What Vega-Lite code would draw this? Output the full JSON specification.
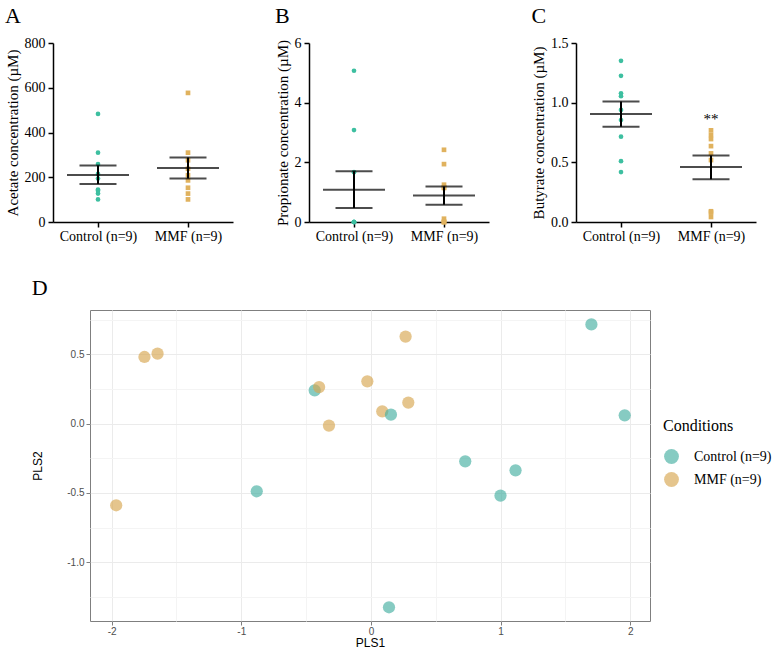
{
  "$schema": "https://vega.github.io/schema/vega-lite/v6.json",
  "padding": {"left": 5, "top": 5, "right": 0, "bottom": 0},
  "background": "white",
  "config": {"view": {"stroke": null}},
  "datasets": {
    "scfa": [
      {"panel": "A", "group": "Control (n=9)", "value": 483},
      {"panel": "A", "group": "Control (n=9)", "value": 310},
      {"panel": "A", "group": "Control (n=9)", "value": 259},
      {"panel": "A", "group": "Control (n=9)", "value": 215},
      {"panel": "A", "group": "Control (n=9)", "value": 194},
      {"panel": "A", "group": "Control (n=9)", "value": 145},
      {"panel": "A", "group": "Control (n=9)", "value": 140},
      {"panel": "A", "group": "Control (n=9)", "value": 127},
      {"panel": "A", "group": "Control (n=9)", "value": 101},
      {"panel": "A", "group": "MMF (n=9)", "value": 577},
      {"panel": "A", "group": "MMF (n=9)", "value": 310},
      {"panel": "A", "group": "MMF (n=9)", "value": 276},
      {"panel": "A", "group": "MMF (n=9)", "value": 238},
      {"panel": "A", "group": "MMF (n=9)", "value": 209},
      {"panel": "A", "group": "MMF (n=9)", "value": 186},
      {"panel": "A", "group": "MMF (n=9)", "value": 153},
      {"panel": "A", "group": "MMF (n=9)", "value": 127},
      {"panel": "A", "group": "MMF (n=9)", "value": 101},
      {"panel": "B", "group": "Control (n=9)", "value": 5.07},
      {"panel": "B", "group": "Control (n=9)", "value": 3.08},
      {"panel": "B", "group": "Control (n=9)", "value": 1.67},
      {"panel": "B", "group": "Control (n=9)", "value": 0},
      {"panel": "B", "group": "Control (n=9)", "value": 0},
      {"panel": "B", "group": "Control (n=9)", "value": 0},
      {"panel": "B", "group": "Control (n=9)", "value": 0},
      {"panel": "B", "group": "Control (n=9)", "value": 0},
      {"panel": "B", "group": "Control (n=9)", "value": 0},
      {"panel": "B", "group": "MMF (n=9)", "value": 2.42},
      {"panel": "B", "group": "MMF (n=9)", "value": 1.94},
      {"panel": "B", "group": "MMF (n=9)", "value": 1.25},
      {"panel": "B", "group": "MMF (n=9)", "value": 1.16},
      {"panel": "B", "group": "MMF (n=9)", "value": 1.14},
      {"panel": "B", "group": "MMF (n=9)", "value": 0.11},
      {"panel": "B", "group": "MMF (n=9)", "value": 0},
      {"panel": "B", "group": "MMF (n=9)", "value": 0},
      {"panel": "B", "group": "MMF (n=9)", "value": 0},
      {"panel": "C", "group": "Control (n=9)", "value": 1.351},
      {"panel": "C", "group": "Control (n=9)", "value": 1.225},
      {"panel": "C", "group": "Control (n=9)", "value": 1.079},
      {"panel": "C", "group": "Control (n=9)", "value": 1.054},
      {"panel": "C", "group": "Control (n=9)", "value": 0.939},
      {"panel": "C", "group": "Control (n=9)", "value": 0.855},
      {"panel": "C", "group": "Control (n=9)", "value": 0.715},
      {"panel": "C", "group": "Control (n=9)", "value": 0.51},
      {"panel": "C", "group": "Control (n=9)", "value": 0.418},
      {"panel": "C", "group": "MMF (n=9)", "value": 0.768},
      {"panel": "C", "group": "MMF (n=9)", "value": 0.729},
      {"panel": "C", "group": "MMF (n=9)", "value": 0.695},
      {"panel": "C", "group": "MMF (n=9)", "value": 0.636},
      {"panel": "C", "group": "MMF (n=9)", "value": 0.575},
      {"panel": "C", "group": "MMF (n=9)", "value": 0.519},
      {"panel": "C", "group": "MMF (n=9)", "value": 0.09},
      {"panel": "C", "group": "MMF (n=9)", "value": 0.079},
      {"panel": "C", "group": "MMF (n=9)", "value": 0.042}
    ],
    "summary": [
      {"panel": "A", "group": "Control (n=9)", "mean": 210, "lo": 170, "hi": 252},
      {"panel": "A", "group": "MMF (n=9)", "mean": 241, "lo": 194, "hi": 288},
      {"panel": "B", "group": "Control (n=9)", "mean": 1.08, "lo": 0.47, "hi": 1.7},
      {"panel": "B", "group": "MMF (n=9)", "mean": 0.89, "lo": 0.58, "hi": 1.19},
      {"panel": "C", "group": "Control (n=9)", "mean": 0.906, "lo": 0.799, "hi": 1.009},
      {"panel": "C", "group": "MMF (n=9)", "mean": 0.46, "lo": 0.359, "hi": 0.558}
    ],
    "annot": [
      {"panel": "C", "group": "MMF (n=9)", "y": 0.86, "label": "**"}
    ],
    "pls": [
      {"group": "Control (n=9)", "PLS1": -0.434, "PLS2": 0.24},
      {"group": "MMF (n=9)", "PLS1": -1.747, "PLS2": 0.481},
      {"group": "MMF (n=9)", "PLS1": -1.646, "PLS2": 0.505},
      {"group": "MMF (n=9)", "PLS1": -0.4, "PLS2": 0.264},
      {"group": "MMF (n=9)", "PLS1": -0.324, "PLS2": -0.014},
      {"group": "MMF (n=9)", "PLS1": -0.028, "PLS2": 0.305},
      {"group": "MMF (n=9)", "PLS1": 0.087, "PLS2": 0.089},
      {"group": "MMF (n=9)", "PLS1": 0.267, "PLS2": 0.628},
      {"group": "MMF (n=9)", "PLS1": 0.288, "PLS2": 0.152},
      {"group": "MMF (n=9)", "PLS1": -1.965, "PLS2": -0.589},
      {"group": "Control (n=9)", "PLS1": 0.154, "PLS2": 0.065},
      {"group": "Control (n=9)", "PLS1": 1.7, "PLS2": 0.716},
      {"group": "Control (n=9)", "PLS1": 1.957, "PLS2": 0.06},
      {"group": "Control (n=9)", "PLS1": 0.727, "PLS2": -0.272},
      {"group": "Control (n=9)", "PLS1": 1.115, "PLS2": -0.337},
      {"group": "Control (n=9)", "PLS1": 0.999, "PLS2": -0.519},
      {"group": "Control (n=9)", "PLS1": -0.881, "PLS2": -0.488},
      {"group": "Control (n=9)", "PLS1": 0.139, "PLS2": -1.325}
    ]
  },
  "resolve": {"scale": {"color": "independent", "shape": "independent"}, "legend": {"color": "independent"}},
  "columns": 1,
  "align": "none",
  "spacing": 33,
  "concat": [
    {
      "spacing": 42,
      "hconcat": [
        {
          "width": 180, "height": 179,
          "title": {"text": "A", "anchor": "start", "frame": "bounds", "font": "Liberation Serif", "fontSize": 22, "fontWeight": "normal", "color": "#000", "offset": 8},
          "layer": [
            {
              "data": {"name": "scfa"},
              "transform": [{"filter": "datum.panel === 'A'"}],
              "mark": {"type": "point", "filled": true, "size": 22, "opacity": 1},
              "encoding": {
                "x": {"field": "group", "type": "nominal", "scale": {"type": "point", "padding": 0.5, "domain": ["Control (n=9)", "MMF (n=9)"]},
                  "axis": {"title": null, "labelAngle": 0, "domainColor": "#000", "domainWidth": 1.5, "tickColor": "#000", "tickWidth": 1.5, "tickSize": 5, "labelFont": "Liberation Serif", "labelFontSize": 14, "labelColor": "#000", "labelPadding": 2, "grid": false}},
                "y": {"field": "value", "type": "quantitative", "scale": {"domain": [0, 800], "nice": false},
                  "axis": {"title": "Acetate concentration (µM)", "values": [0, 200, 400, 600, 800], "grid": false, "domainColor": "#000", "domainWidth": 1.5, "tickColor": "#000", "tickWidth": 1.5, "tickSize": 5, "labelFont": "Liberation Serif", "labelFontSize": 14, "labelColor": "#000", "labelPadding": 3, "titleFont": "Liberation Serif", "titleFontSize": 15, "titleFontWeight": "normal", "titleColor": "#000", "titlePadding": 4}},
                "color": {"field": "group", "type": "nominal", "scale": {"domain": ["Control (n=9)", "MMF (n=9)"], "range": ["#3DBFA0", "#E0B25E"]}, "legend": null},
                "shape": {"field": "group", "type": "nominal", "scale": {"domain": ["Control (n=9)", "MMF (n=9)"], "range": ["circle", "square"]}, "legend": null}
              }
            },
            {
              "data": {"name": "summary"},
              "transform": [{"filter": "datum.panel === 'A'"}],
              "mark": {"type": "rule", "color": "#000", "strokeWidth": 2},
              "encoding": {"x": {"field": "group", "type": "nominal"}, "y": {"field": "lo", "type": "quantitative"}, "y2": {"field": "hi"}}
            },
            {
              "data": {"name": "summary"},
              "transform": [{"filter": "datum.panel === 'A'"}],
              "mark": {"type": "tick", "color": "#000", "size": 62, "thickness": 2},
              "encoding": {"x": {"field": "group", "type": "nominal"}, "y": {"field": "mean", "type": "quantitative"}}
            },
            {
              "data": {"name": "summary"},
              "transform": [{"filter": "datum.panel === 'A'"}],
              "mark": {"type": "tick", "color": "#000", "size": 37, "thickness": 2},
              "encoding": {"x": {"field": "group", "type": "nominal"}, "y": {"field": "lo", "type": "quantitative"}}
            },
            {
              "data": {"name": "summary"},
              "transform": [{"filter": "datum.panel === 'A'"}],
              "mark": {"type": "tick", "color": "#000", "size": 37, "thickness": 2},
              "encoding": {"x": {"field": "group", "type": "nominal"}, "y": {"field": "hi", "type": "quantitative"}}
            }
          ]
        },
        {
          "width": 180, "height": 179,
          "title": {"text": "B", "anchor": "start", "frame": "bounds", "font": "Liberation Serif", "fontSize": 22, "fontWeight": "normal", "color": "#000", "offset": 8},
          "layer": [
            {
              "data": {"name": "scfa"},
              "transform": [{"filter": "datum.panel === 'B'"}],
              "mark": {"type": "point", "filled": true, "size": 22, "opacity": 1},
              "encoding": {
                "x": {"field": "group", "type": "nominal", "scale": {"type": "point", "padding": 0.5, "domain": ["Control (n=9)", "MMF (n=9)"]},
                  "axis": {"title": null, "labelAngle": 0, "domainColor": "#000", "domainWidth": 1.5, "tickColor": "#000", "tickWidth": 1.5, "tickSize": 5, "labelFont": "Liberation Serif", "labelFontSize": 14, "labelColor": "#000", "labelPadding": 2, "grid": false}},
                "y": {"field": "value", "type": "quantitative", "scale": {"domain": [0, 6], "nice": false},
                  "axis": {"title": "Propionate concentration (µM)", "values": [0, 2, 4, 6], "grid": false, "domainColor": "#000", "domainWidth": 1.5, "tickColor": "#000", "tickWidth": 1.5, "tickSize": 5, "labelFont": "Liberation Serif", "labelFontSize": 14, "labelColor": "#000", "labelPadding": 3, "titleFont": "Liberation Serif", "titleFontSize": 15, "titleFontWeight": "normal", "titleColor": "#000", "titlePadding": 4}},
                "color": {"field": "group", "type": "nominal", "scale": {"domain": ["Control (n=9)", "MMF (n=9)"], "range": ["#3DBFA0", "#E0B25E"]}, "legend": null},
                "shape": {"field": "group", "type": "nominal", "scale": {"domain": ["Control (n=9)", "MMF (n=9)"], "range": ["circle", "square"]}, "legend": null}
              }
            },
            {
              "data": {"name": "summary"},
              "transform": [{"filter": "datum.panel === 'B'"}],
              "mark": {"type": "rule", "color": "#000", "strokeWidth": 2},
              "encoding": {"x": {"field": "group", "type": "nominal"}, "y": {"field": "lo", "type": "quantitative"}, "y2": {"field": "hi"}}
            },
            {
              "data": {"name": "summary"},
              "transform": [{"filter": "datum.panel === 'B'"}],
              "mark": {"type": "tick", "color": "#000", "size": 62, "thickness": 2},
              "encoding": {"x": {"field": "group", "type": "nominal"}, "y": {"field": "mean", "type": "quantitative"}}
            },
            {
              "data": {"name": "summary"},
              "transform": [{"filter": "datum.panel === 'B'"}],
              "mark": {"type": "tick", "color": "#000", "size": 37, "thickness": 2},
              "encoding": {"x": {"field": "group", "type": "nominal"}, "y": {"field": "lo", "type": "quantitative"}}
            },
            {
              "data": {"name": "summary"},
              "transform": [{"filter": "datum.panel === 'B'"}],
              "mark": {"type": "tick", "color": "#000", "size": 37, "thickness": 2},
              "encoding": {"x": {"field": "group", "type": "nominal"}, "y": {"field": "hi", "type": "quantitative"}}
            }
          ]
        },
        {
          "width": 180, "height": 179,
          "title": {"text": "C", "anchor": "start", "frame": "bounds", "font": "Liberation Serif", "fontSize": 22, "fontWeight": "normal", "color": "#000", "offset": 8},
          "layer": [
            {
              "data": {"name": "scfa"},
              "transform": [{"filter": "datum.panel === 'C'"}],
              "mark": {"type": "point", "filled": true, "size": 22, "opacity": 1},
              "encoding": {
                "x": {"field": "group", "type": "nominal", "scale": {"type": "point", "padding": 0.5, "domain": ["Control (n=9)", "MMF (n=9)"]},
                  "axis": {"title": null, "labelAngle": 0, "domainColor": "#000", "domainWidth": 1.5, "tickColor": "#000", "tickWidth": 1.5, "tickSize": 5, "labelFont": "Liberation Serif", "labelFontSize": 14, "labelColor": "#000", "labelPadding": 2, "grid": false}},
                "y": {"field": "value", "type": "quantitative", "scale": {"domain": [0, 1.5], "nice": false},
                  "axis": {"title": "Butyrate concentration (µM)", "values": [0, 0.5, 1, 1.5], "format": ".1f", "grid": false, "domainColor": "#000", "domainWidth": 1.5, "tickColor": "#000", "tickWidth": 1.5, "tickSize": 5, "labelFont": "Liberation Serif", "labelFontSize": 14, "labelColor": "#000", "labelPadding": 3, "titleFont": "Liberation Serif", "titleFontSize": 15, "titleFontWeight": "normal", "titleColor": "#000", "titlePadding": 4}},
                "color": {"field": "group", "type": "nominal", "scale": {"domain": ["Control (n=9)", "MMF (n=9)"], "range": ["#3DBFA0", "#E0B25E"]}, "legend": null},
                "shape": {"field": "group", "type": "nominal", "scale": {"domain": ["Control (n=9)", "MMF (n=9)"], "range": ["circle", "square"]}, "legend": null}
              }
            },
            {
              "data": {"name": "summary"},
              "transform": [{"filter": "datum.panel === 'C'"}],
              "mark": {"type": "rule", "color": "#000", "strokeWidth": 2},
              "encoding": {"x": {"field": "group", "type": "nominal"}, "y": {"field": "lo", "type": "quantitative"}, "y2": {"field": "hi"}}
            },
            {
              "data": {"name": "summary"},
              "transform": [{"filter": "datum.panel === 'C'"}],
              "mark": {"type": "tick", "color": "#000", "size": 62, "thickness": 2},
              "encoding": {"x": {"field": "group", "type": "nominal"}, "y": {"field": "mean", "type": "quantitative"}}
            },
            {
              "data": {"name": "summary"},
              "transform": [{"filter": "datum.panel === 'C'"}],
              "mark": {"type": "tick", "color": "#000", "size": 37, "thickness": 2},
              "encoding": {"x": {"field": "group", "type": "nominal"}, "y": {"field": "lo", "type": "quantitative"}}
            },
            {
              "data": {"name": "summary"},
              "transform": [{"filter": "datum.panel === 'C'"}],
              "mark": {"type": "tick", "color": "#000", "size": 37, "thickness": 2},
              "encoding": {"x": {"field": "group", "type": "nominal"}, "y": {"field": "hi", "type": "quantitative"}}
            },
            {
              "data": {"name": "annot"},
              "mark": {"type": "text", "font": "Liberation Serif", "fontSize": 15, "color": "#000", "baseline": "middle"},
              "encoding": {"x": {"field": "group", "type": "nominal"}, "y": {"field": "y", "type": "quantitative"}, "text": {"field": "label"}}
            }
          ]
        }
      ]
    },
    {
      "spacing": -23,
      "resolve": {"scale": {"color": "independent"}, "legend": {"color": "independent"}},
      "hconcat": [
        {
          "width": 1, "height": 1,
          "data": {"values": [{"k": 1}]},
          "mark": {"type": "point", "opacity": 0, "size": 0},
          "encoding": {}
        },
        {
          "width": 560, "height": 311,
          "view": {"stroke": "#7f7f7f", "strokeWidth": 1},
          "title": {"text": "D", "anchor": "start", "frame": "bounds", "font": "Liberation Serif", "fontSize": 22, "fontWeight": "normal", "color": "#000", "offset": 10},
          "data": {"name": "pls"},
          "mark": {"type": "point", "filled": true, "size": 150, "opacity": 0.65},
          "encoding": {
            "x": {"field": "PLS1", "type": "quantitative", "scale": {"domain": [-2.167, 2.152], "nice": false, "zero": false},
              "axis": {"title": "PLS1", "values": [-2, -1.5, -1, -0.5, 0, 0.5, 1, 1.5, 2],
                "labelExpr": "datum.value % 1 === 0 ? '' + datum.value : ''",
                "gridColor": {"condition": {"test": "datum.value % 1 === 0", "value": "#EBEBEB"}, "value": "#F4F4F4"},
                "tickOpacity": {"condition": {"test": "datum.value % 1 === 0", "value": 1}, "value": 0},
                "tickColor": "#7f7f7f", "tickSize": 4, "domain": false,
                "labelFont": "Liberation Sans", "labelFontSize": 10, "labelColor": "#4D4D4D", "labelPadding": 1,
                "titleFont": "Liberation Sans", "titleFontSize": 12, "titleFontWeight": "normal", "titleColor": "#000", "titlePadding": 1}},
            "y": {"field": "PLS2", "type": "quantitative", "scale": {"domain": [-1.424, 0.82], "nice": false, "zero": false},
              "axis": {"title": "PLS2", "values": [-1.25, -1, -0.75, -0.5, -0.25, 0, 0.25, 0.5, 0.75],
                "labelExpr": "datum.value % 0.5 === 0 ? replace(format(datum.value, '.1f'), '−', '-') : ''",
                "gridColor": {"condition": {"test": "datum.value % 0.5 === 0", "value": "#EBEBEB"}, "value": "#F4F4F4"},
                "tickOpacity": {"condition": {"test": "datum.value % 0.5 === 0", "value": 1}, "value": 0},
                "tickColor": "#7f7f7f", "tickSize": 4, "domain": false,
                "labelFont": "Liberation Sans", "labelFontSize": 10, "labelColor": "#4D4D4D", "labelPadding": 2,
                "titleFont": "Liberation Sans", "titleFontSize": 12, "titleFontWeight": "normal", "titleColor": "#000", "titlePadding": 22}},
            "color": {"field": "group", "type": "nominal", "scale": {"domain": ["Control (n=9)", "MMF (n=9)"], "range": ["#45AFA1", "#D7A650"]},
              "legend": {"title": "Conditions", "orient": "none", "legendX": 573, "legendY": 108, "padding": 0,
                "titleFont": "Liberation Serif", "titleFontSize": 16, "titleFontWeight": "normal", "titleColor": "#000", "titlePadding": 14,
                "labelFont": "Liberation Serif", "labelFontSize": 14, "labelColor": "#000", "labelOffset": 14,
                "symbolType": "circle", "symbolSize": 220, "symbolOpacity": 0.65, "rowPadding": 7}}
          }
        }
      ]
    }
  ]
}
